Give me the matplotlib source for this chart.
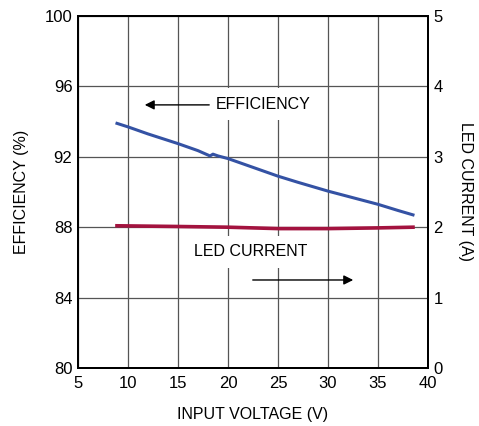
import numpy as np
import matplotlib
matplotlib.use("Agg")
import matplotlib.pyplot as plt

plt.rcParams["font.family"] = ["Liberation Sans Narrow", "Liberation Sans", "DejaVu Sans"]

# Efficiency vs input voltage
eff_vin = [8.9, 10, 12, 15, 17, 18.2, 18.5, 19, 20, 22, 25, 27, 30, 32, 35, 37, 38.5]
eff_pct = [93.9, 93.7, 93.3, 92.75, 92.35, 92.05, 92.15, 92.05, 91.9, 91.5, 90.9, 90.55, 90.05, 89.75, 89.3, 88.95, 88.7]

# LED current vs input voltage
led_vin = [8.9, 15, 20, 25, 30, 35, 38.5]
led_amp = [2.02, 2.01, 2.0, 1.98, 1.98, 1.99, 2.0]

X_TICKS = [5, 10, 15, 20, 25, 30, 35, 40]
EFF_TICKS = [80, 84, 88, 92, 96, 100]
LED_TICKS = [0, 1, 2, 3, 4, 5]

fig = plt.figure(figsize=(4.79, 4.26), dpi=100)
ax = fig.add_axes([0.1628, 0.1362, 0.7307, 0.8262])
ax2 = ax.twinx()

ax.plot(eff_vin, eff_pct, color="#3452a4", lw=2.2, zorder=3)
ax2.plot(led_vin, led_amp, color="#a3133f", lw=2.6, zorder=3)

ax.set_xlim(5, 40)
ax.set_ylim(80, 100)
ax2.set_ylim(0, 5)
ax.set_xticks(X_TICKS)
ax.set_yticks(EFF_TICKS)
ax2.set_yticks(LED_TICKS)

ax.grid(True, color="#555555", lw=0.9)
for a in (ax, ax2):
    a.tick_params(length=0, labelsize=12, pad=4)
    for s in a.spines.values():
        s.set_linewidth(1.4)
ax.tick_params(axis="x", pad=6)

ax.set_xlabel("INPUT VOLTAGE (V)", fontsize=11.5, labelpad=11)
ax.set_ylabel("EFFICIENCY (%)", fontsize=11.5, labelpad=11)
ax2.set_ylabel("LED CURRENT (A)", fontsize=11.5, rotation=270, labelpad=22)

box = dict(facecolor="white", edgecolor="none", boxstyle="square,pad=0.55")
ax.text(18.8, 95.0, "EFFICIENCY", fontsize=11.5, va="center", ha="left", bbox=box)
ax.annotate("", xy=(11.4, 94.95), xytext=(18.4, 94.95),
            arrowprops=dict(arrowstyle="-|>", color="black", lw=1, mutation_scale=14))
ax.text(16.6, 86.6, "LED CURRENT", fontsize=11.5, va="center", ha="left", bbox=box)
ax.annotate("", xy=(32.8, 85.0), xytext=(22.2, 85.0),
            arrowprops=dict(arrowstyle="-|>", color="black", lw=1, mutation_scale=14))

fig.savefig("out.png", dpi=100)
